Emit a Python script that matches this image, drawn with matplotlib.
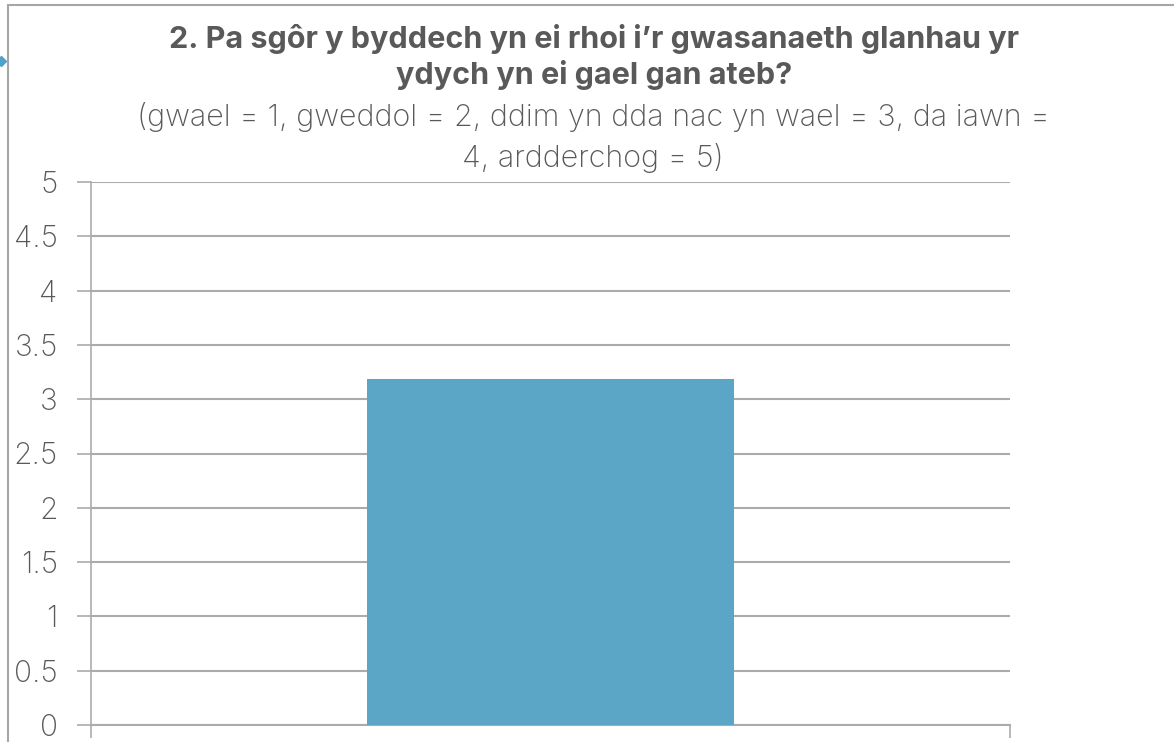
import matplotlib.pyplot as plt
import matplotlib.patches as mpatches
import numpy as np

# data
categories = [""]
scores = [3.19]
yticks = [0, 0.5, 1, 1.5, 2, 2.5, 3, 3.5, 4, 4.5, 5]
ytick_labels = ["0", "0.5", "1", "1.5", "2", "2.5", "3", "3.5", "4", "4.5", "5"]

TITLE = "2. Pa sgôr y byddech yn ei rhoi i\u2019r gwasanaeth glanhau yr\nydych yn ei gael gan ateb?"
SUBTITLE = "(gwael = 1, gweddol = 2, ddim yn dda nac yn wael = 3, da iawn =\n4, ardderchog = 5)"

TEXT = "#595959"
GRID = "#ABABAB"
BAR = "#5BA5C6"

plt.rcParams['font.family'] = ['Inter', 'DejaVu Sans']

fig = plt.figure(figsize=(11.74, 7.42), dpi=100)
W, H = 1174, 742

# outer chart border (only top/left visible in the crop)
fig.add_artist(mpatches.Rectangle((8 / W, -0.1), 1.2, (742 - 5) / H + 0.1,
                                  transform=fig.transFigure, fill=False,
                                  edgecolor="#A6A6A6", linewidth=1.5))
# selection handle
fig.add_artist(plt.Line2D([1 / W], [1 - 61 / H], transform=fig.transFigure,
                          marker="D", markersize=5, color="#4FA3C9", linestyle=""))

ax = fig.add_axes([91 / W, 17 / H, (1010 - 91) / W, (725 - 182) / H])
X = np.arange(len(categories))
ax.bar(X, scores, width=0.4, color=BAR, zorder=3)

ax.set_xlim(-0.5, len(categories) - 0.5)
ax.set_ylim(0, 5)
ax.set_yticks(yticks)
ax.set_yticklabels(ytick_labels, fontsize=21.5, color=TEXT, fontweight="light")
ax.yaxis.grid(True, color=GRID, linewidth=1.5, zorder=0)
ax.tick_params(axis="y", length=10, width=1.2, color=GRID, pad=14)
ax.set_xticks([-0.5, 0.5])
ax.set_xticklabels(["", ""])
ax.tick_params(axis="x", length=9, width=1.2, color=GRID)
for s in ["top", "right"]:
    ax.spines[s].set_visible(False)
ax.spines["left"].set_color(GRID)
ax.spines["left"].set_linewidth(1.2)
ax.spines["bottom"].set_color(GRID)
ax.spines["bottom"].set_linewidth(1.5)

fig.text(594 / W, 1 - 84 / H, TITLE, ha="center", va="baseline", fontsize=22,
         fontweight="bold", color=TEXT, linespacing=1.25)
fig.text(593 / W, 1 - 167 / H, SUBTITLE, ha="center", va="baseline", fontsize=22,
         fontweight="light", color=TEXT, linespacing=1.46)

fig.savefig("out.png", dpi=100)
